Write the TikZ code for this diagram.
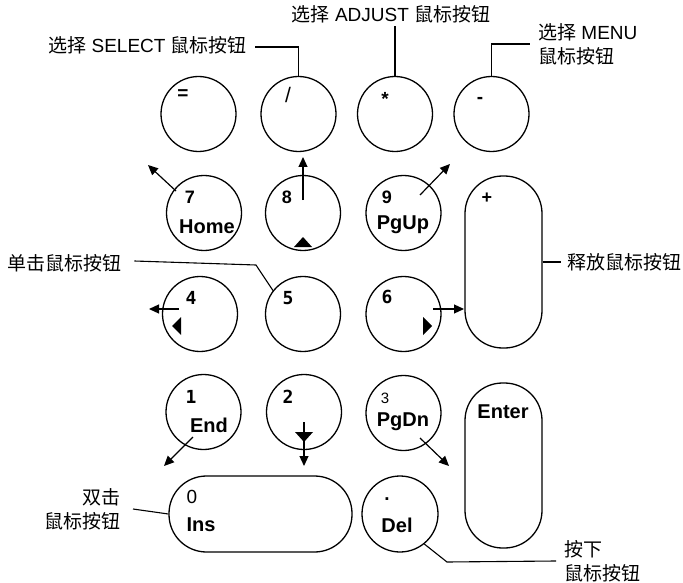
\documentclass[tikz,border=0pt]{standalone}
\usepackage{fontspec}
\setmainfont{Liberation Sans}
\newfontfamily\cjk{Noto Sans CJK SC}
\newfontfamily\monof{DejaVu Sans Mono}
\usetikzlibrary{arrows.meta}
\newcommand{\zh}[1]{{\cjk #1}}
\begin{document}
\begin{tikzpicture}[x=1pt,y=-1pt,
  key/.style={draw, circle, line width=1.3pt, minimum size=75pt, inner sep=0pt},
  keyr/.style={draw, rectangle, rounded corners=37.5pt, line width=1.3pt, inner sep=0pt},
  lab/.style={font=\fontsize{19}{24}\selectfont, inner sep=0pt},
  big/.style={font=\fontsize{20}{24}\selectfont\bfseries, inner sep=0pt},
  num/.style={font=\fontsize{19}{22}\selectfont, inner sep=0pt},
  bnum/.style={font=\fontsize{18}{22}\selectfont\bfseries, inner sep=0pt},
  mnum/.style={font=\fontsize{18}{22}\selectfont\monof\bfseries, inner sep=0pt},
  arr/.style={line width=1.2pt, -{Triangle[length=10pt,width=9pt]}},
  lead/.style={line width=1.1pt},
  tri/.style={fill=black}]
\useasboundingbox (0,0) rectangle (683,583);

% keys
\node[key] (keq)    at (198.5,114) {};
\node[key] (kslash) at (298.5,114) {};
\node[key] (kstar)  at (395,114) {};
\node[key] (kminus) at (491.5,114) {};
\node[key] (k7) at (204,213) {};
\node[key] (k8) at (303,213) {};
\node[key] (k9) at (403.5,213) {};
\node[keyr, minimum width=77pt, minimum height=172pt] (kplus) at (503.5,262) {};
\node[key] (k4) at (200,314) {};
\node[key] (k5) at (303,314) {};
\node[key] (k6) at (403.5,314) {};
\node[key] (k1) at (203.5,412) {};
\node[key] (k2) at (304,412) {};
\node[key] (k3) at (403.5,413) {};
\node[keyr, minimum width=77pt, minimum height=165pt] (kenter) at (503.5,465.5) {};
\node[keyr, minimum width=183pt, minimum height=76pt] (kins) at (260.5,514) {};
\node[key, minimum size=76pt] (kdel) at (400,514) {};

% key texts
\node[num] (teq) at (183,95) {\textbf{=}};
\node[num, font=\fontsize{21}{22}\selectfont] (tslash) at (288,95) {/};
\node[num] (tstar) at (385,99) {\textbf{*}};
\node[num] (tminus) at (480,100) {\textbf{-}};
\node[bnum] (t7) at (190,197) {7};
\node[big] (thome) at (207,227) {Home};
\node[bnum] (t8) at (287,197) {8};
\node[bnum] (t9) at (387,197) {9};
\node[big] (tpgup) at (403,225) {PgUp};
\node[bnum] (tplus) at (487,198) {+};
\node[mnum] (t4) at (191,298) {4};
\node[mnum] (t5) at (288,298) {5};
\node[mnum] (t6) at (387,297) {6};
\node[mnum] (t1) at (191,397) {1};
\node[big] (tend) at (209,425) {End};
\node[mnum] (t2) at (288,397) {2};
\node[num, font=\fontsize{15}{17}\selectfont] (t3) at (385,398) {3};
\node[big] (tpgdn) at (403,422) {PgDn};
\node[big] (tenter) at (503,412) {Enter};
\node[num] (t0) at (192,497) {0};
\node[big] (tins) at (201,525) {Ins};
\node[num] (tdot) at (387,499) {\textbf{.}};
\node[big] (tdel) at (397,525) {Del};

% arrows
\coordinate (a7s) at (176,191); \coordinate (a7e) at (148,165);
\draw[arr] (a7s) -- (a7e);
\coordinate (a8s) at (303,200); \coordinate (a8e) at (303,157);
\draw[arr] (a8s) -- (a8e);
\coordinate (a9s) at (420,195); \coordinate (a9e) at (450,164);
\draw[arr] (a9s) -- (a9e);
\coordinate (a4s) at (179,309); \coordinate (a4e) at (149,309);
\draw[arr] (a4s) -- (a4e);
\coordinate (a6s) at (433,309); \coordinate (a6e) at (464,309);
\draw[arr] (a6s) -- (a6e);
\coordinate (a1s) at (193,437); \coordinate (a1e) at (164,466);
\draw[arr] (a1s) -- (a1e);
\coordinate (a2s) at (304,422); \coordinate (a2e) at (304,466);
\draw[arr] (a2s) -- (a2e);
\coordinate (a3s) at (420,438); \coordinate (a3e) at (449,466);
\draw[arr] (a3s) -- (a3e);

% direction triangles
\fill[tri] (294,247) -- (312,247) -- (303,237) -- cycle;
\fill[tri] (181,317) -- (181,335) -- (172,326) -- cycle;
\fill[tri] (423,317) -- (423,335) -- (432,326) -- cycle;
\fill[tri] (295,432) -- (313,432) -- (304,442) -- cycle;

% labels
\node[lab, anchor=east] (selL) at (247,45) {\zh{选择} SELECT \zh{鼠标按钮}};
\node[lab] (adjL) at (391,14) {\zh{选择} ADJUST \zh{鼠标按钮}};
\node[lab, anchor=west, align=left] (menuL) at (538,44) {\zh{选择} MENU\\\zh{鼠标按钮}};
\node[lab, anchor=west] (relL) at (567,262) {\zh{释放鼠标按钮}};
\node[lab, anchor=west] (clkL) at (7,263) {\zh{单击鼠标按钮}};
\node[lab, anchor=east, align=right] (dblL) at (121,509) {\zh{双击}\\\zh{鼠标按钮}};
\node[lab, anchor=west, align=left] (prsL) at (564,561) {\zh{按下}\\\zh{鼠标按钮}};

% leaders
\draw[lead] ([xshift=8pt,yshift=-2pt]selL.east) -| (kslash.north);
\draw[lead] (kstar.north |- adjL.south) ++(0,3) -- (kstar.north);
\draw[lead] (kminus.north) |- ([xshift=-8pt]menuL.west);
\draw[lead] (kplus.east) -- ([xshift=-6pt]relL.west);
\coordinate (cb) at (256,265);
\draw[lead] ([xshift=13pt,yshift=2pt]clkL.east) -- (cb) -- (k5.142);
\draw[lead] ([xshift=12pt]dblL.east) -- (kins.west);
\coordinate (cp) at (447,562);
\draw[lead] (kdel.-51) -- (cp) -- ([xshift=-8pt]prsL.west);
\end{tikzpicture}
\end{document}
